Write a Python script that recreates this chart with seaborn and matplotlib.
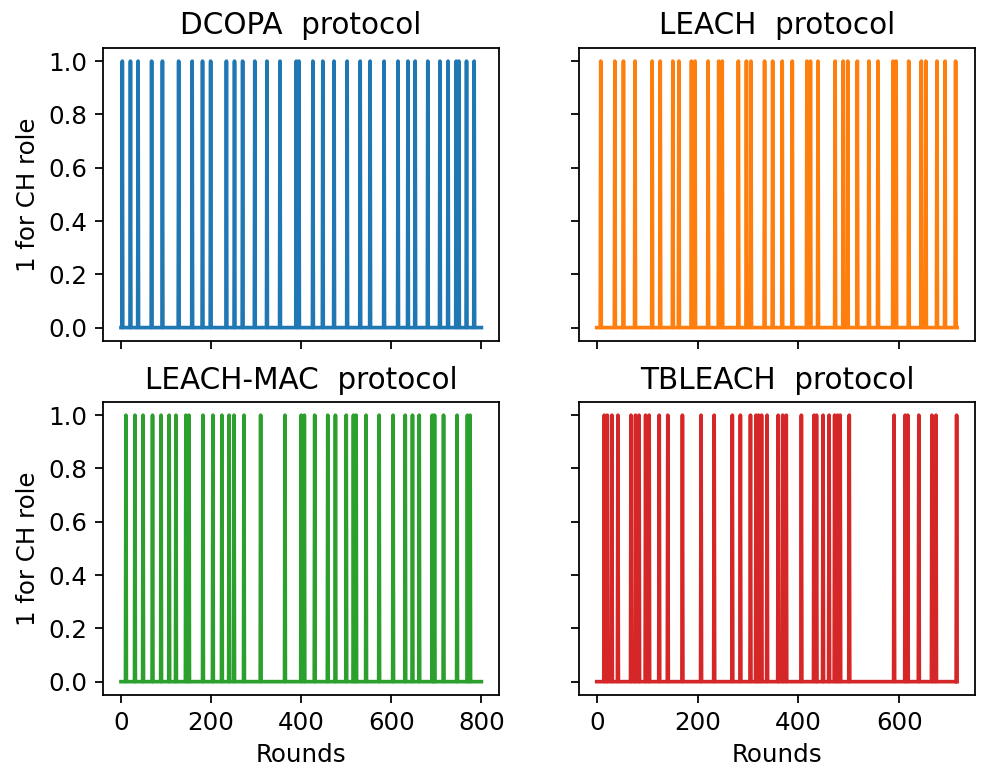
import numpy as np
import matplotlib
matplotlib.use("Agg")
import matplotlib.pyplot as plt
import seaborn as sns

# rounds in which each node took the cluster-head role
dcopa_ch = [3, 21, 38, 68, 92, 128, 158, 181, 199, 234, 252, 270, 297, 324, 353,
            389, 395, 426, 448, 473, 502, 531, 553, 584, 615, 637, 653, 681, 708,
            726, 744, 750, 767, 784]
leach_ch = [8, 36, 53, 76, 110, 126, 151, 163, 188, 195, 221, 242, 249, 281, 297,
            306, 333, 349, 368, 388, 417, 424, 439, 473, 489, 498, 517, 540, 558,
            588, 594, 619, 644, 653, 675, 691, 712]
leach_mac_ch = [11, 31, 49, 70, 89, 107, 122, 144, 151, 182, 204, 224, 240, 251,
                273, 310, 364, 400, 407, 430, 459, 476, 500, 516, 522, 544, 573,
                604, 631, 647, 662, 691, 696, 716, 746, 769, 775]
tbleach_ch = [15, 21, 30, 42, 68, 77, 84, 97, 104, 124, 141, 170, 207, 233, 269,
              285, 305, 316, 321, 327, 338, 360, 369, 376, 406, 431, 436, 449, 461,
              472, 478, 483, 501, 590, 612, 617, 639, 665, 673, 714]

# number of rounds each protocol lasted
dcopa_rounds = 800
leach_rounds = 715
leach_mac_rounds = 800
tbleach_rounds = 715

titles = ["DCOPA  protocol", "LEACH  protocol", "LEACH-MAC  protocol", "TBLEACH  protocol"]
y_ticks = [0.0, 0.2, 0.4, 0.6, 0.8, 1.0]


def ch_series(ch_rounds, n_rounds):
    x = np.arange(n_rounds + 1)
    y = np.zeros(n_rounds + 1)
    y[ch_rounds] = 1
    return x, y


series = [ch_series(dcopa_ch, dcopa_rounds),
          ch_series(leach_ch, leach_rounds),
          ch_series(leach_mac_ch, leach_mac_rounds),
          ch_series(tbleach_ch, tbleach_rounds)]

colors = sns.color_palette("tab10")

plt.rcParams["xtick.labelsize"] = 11
plt.rcParams["ytick.labelsize"] = 11

fig, axes = plt.subplots(2, 2, figsize=(990 / 160, 771 / 160), dpi=160,
                         sharex="col", sharey=True)
fig.subplots_adjust(left=0.104, right=0.985, top=0.938, bottom=0.0986,
                    wspace=0.2, hspace=0.208)

for i, ax in enumerate(axes.flat):
    x, y = series[i]
    sns.lineplot(x=x, y=y, ax=ax, color=colors[i], linewidth=1.65)
    ax.set_title(titles[i], fontsize=13.3)
    ax.set_xlabel("")
    ax.set_ylabel("")

axes[0, 0].set_yticks(y_ticks)
axes[0, 0].set_ylabel("1 for CH role", fontsize=11)
axes[1, 0].set_ylabel("1 for CH role", fontsize=11)
axes[1, 0].set_xlabel("Rounds", fontsize=11)
axes[1, 1].set_xlabel("Rounds", fontsize=11)

fig.savefig("out.png", dpi=160)
